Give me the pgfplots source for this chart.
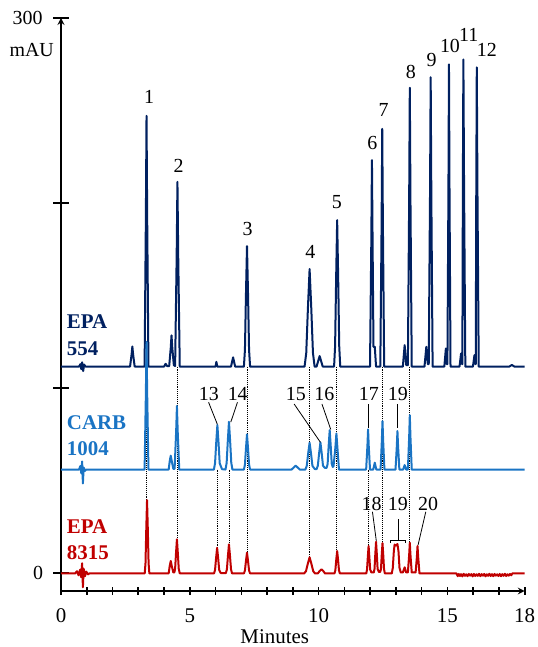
\documentclass[border=0pt]{standalone}
\usepackage{pgfplots}
\pgfplotsset{compat=1.18}
\usepackage{fontspec}
\setmainfont{Liberation Serif}
\definecolor{navy}{HTML}{002060}
\definecolor{cblue}{HTML}{1A74C4}
\definecolor{cred}{HTML}{C00000}
\newcommand{\fs}[1]{\fontsize{#1}{#1}\selectfont}
\tikzset{lead/.style={black, line width=0.8bp}}
\begin{document}
\begin{tikzpicture}
\pgfplotsset{
  base/.style={at={(0,0)}, anchor=south west, width=463.7bp, height=573bp, scale only axis,
    xmin=0, xmax=18, ymin=-9.5, ymax=300, clip=false,
    axis line style={-, line width=2bp, black},
    tick align=outside,
    /pgf/number format/assume math mode=true},
  trace/.style={line width=2bp, line join=round, mark=none},
  dots/.style={black, line width=0.9bp, densely dotted, mark=none},
}
\begin{axis}[base, axis x line=none, axis y line=left,
  ytick={0,100,200,300}, yticklabels={,,,},
  major tick length=15bp, ytick style={line width=2bp, black},
]
% dotted guide lines
\addplot[dots] coordinates {(3.32,111.7) (3.32,39.6)};
\addplot[dots] coordinates {(4.51,111.7) (4.51,18.4)};
\addplot[dots] coordinates {(6.06,56.1) (6.06,13.8)};
\addplot[dots] coordinates {(6.52,56.1) (6.52,15.7)};
\addplot[dots] coordinates {(7.22,111.7) (7.22,11.2)};
\addplot[dots] coordinates {(9.65,111.7) (9.65,8.7)};
\addplot[dots] coordinates {(10.71,111.7) (10.71,12.1)};
\addplot[dots] coordinates {(11.93,56.1) (11.93,14.8)};
\addplot[dots] coordinates {(12.47,111.7) (12.47,16.3)};
\addplot[dots] coordinates {(13.54,111.7) (13.54,16.6)};
% EPA 554
\addplot[trace, navy] table {
x y
0.00 111.7
0.70 111.7
0.75 113.0
0.79 110.3
0.82 114.0
0.86 109.3
0.90 112.8
0.95 111.7
2.68 111.7
2.74 118.2
2.77 122.6
2.80 118.2
2.86 111.7
3.245 111.7
3.295 192.9
3.32 247.1
3.345 192.9
3.395 111.7
4.00 111.7
4.06 113.2
4.12 112.0
4.20 112.0
4.26 121.8
4.29 128.6
4.32 121.8
4.38 112.5
4.43 112.0
4.49 171.6
4.52 211.5
4.55 171.6
4.61 111.7
6.00 111.7
6.03 114.3
6.07 111.7
6.60 111.7
6.68 116.7
6.76 111.7
7.10 111.7
7.14 120.8
7.18 150.8
7.22 176.8
7.26 150.8
7.30 120.8
7.34 111.7
9.455 111.7
9.52 119.1
9.585 143.3
9.65 164.4
9.715 143.3
9.78 119.1
9.845 111.7
9.92 111.7
10.04 117.4
10.16 111.7
10.60 111.7
10.64 122.8
10.68 159.2
10.72 190.8
10.76 159.2
10.80 122.8
10.84 111.7
11.995 111.7
12.045 178.6
12.07 223.2
12.095 178.6
12.13 122.4
12.18 122.4
12.23 111.7
12.395 111.7
12.445 188.7
12.47 240.1
12.495 188.7
12.545 111.7
13.27 111.7
13.34 123.3
13.40 112.5
13.465 112.5
13.515 202.1
13.54 262.3
13.565 202.1
13.615 111.7
14.11 111.7
14.18 122.4
14.24 113.0
14.275 113.0
14.325 205.5
14.35 268.0
14.375 205.5
14.425 111.7
14.88 111.7
14.94 121.5
14.98 113.0
15.00 113.0
15.04 209.6
15.06 274.9
15.08 209.6
15.12 111.7
15.47 111.7
15.53 118.8
15.57 113.0
15.58 113.0
15.60 211.2
15.62 277.6
15.645 211.2
15.695 111.7
15.99 111.7
16.05 117.9
16.09 113.0
16.10 113.0
16.12 208.7
16.14 273.3
16.165 208.7
16.215 111.7
17.40 111.7
17.50 112.6
17.60 111.7
18.00 111.7
};
% CARB 1004
\addplot[trace, cblue] table {
x y
0.00 56.1
0.70 56.1
0.75 58.0
0.79 54.0
0.82 60.5
0.85 48.6
0.88 57.2
0.92 55.3
0.97 56.1
3.245 56.1
3.295 97.5
3.32 125.1
3.345 97.5
3.395 56.1
4.18 56.1
4.22 60.6
4.26 63.6
4.30 60.6
4.36 56.5
4.41 56.5
4.47 76.7
4.50 90.4
4.53 76.7
4.59 56.1
5.935 56.1
5.98 59.5
6.025 70.6
6.07 80.2
6.115 70.6
6.16 59.5
6.25 56.3
6.385 56.1
6.43 59.7
6.475 71.6
6.52 81.9
6.565 71.6
6.61 59.7
6.655 56.1
7.10 56.1
7.14 58.8
7.18 67.5
7.22 75.1
7.26 67.5
7.30 58.8
7.34 56.1
8.95 56.1
9.11 58.2
9.27 56.1
9.485 56.1
9.54 58.1
9.595 64.8
9.65 70.6
9.705 64.8
9.76 58.1
9.85 56.4
9.92 56.3
9.97 58.2
10.02 64.9
10.07 70.8
10.12 64.9
10.17 58.2
10.24 57.0
10.31 57.0
10.35 59.1
10.39 68.9
10.43 77.4
10.47 68.9
10.51 59.1
10.55 57.5
10.58 58.0
10.65 67.8
10.69 75.6
10.73 67.8
10.79 56.1
11.845 56.1
11.895 69.1
11.92 77.8
11.945 69.1
11.995 56.1
12.12 56.1
12.18 59.8
12.24 56.1
12.405 56.1
12.455 71.8
12.48 82.3
12.505 71.8
12.555 56.1
12.985 56.1
13.035 68.6
13.06 76.9
13.085 68.6
13.135 56.1
13.28 56.1
13.34 58.5
13.40 56.1
13.465 56.1
13.515 73.7
13.54 85.5
13.565 73.7
13.615 56.1
18.00 56.1
};
% EPA 8315
\addplot[trace, cred] table {
x y
0.00 0
0.55 0
0.62 1.2
0.68 -1.0
0.74 2.0
0.78 -2.0
0.82 5.5
0.85 -7.5
0.88 2.5
0.93 -1.5
0.98 1.0
1.05 -0.5
1.10 0
3.25 0
3.28 5.5
3.31 23.8
3.34 39.6
3.37 23.8
3.40 5.5
3.43 0
4.18 0
4.22 4.0
4.26 6.7
4.30 4.0
4.36 0.5
4.40 0.5
4.43 2.6
4.465 11.0
4.50 18.4
4.535 11.0
4.57 2.6
4.61 0
5.94 0
5.98 1.9
6.02 8.3
6.06 13.8
6.10 8.3
6.14 1.9
6.20 0.2
6.40 0.2
6.44 2.2
6.48 9.4
6.52 15.7
6.56 9.4
6.60 2.2
6.64 0
7.10 0
7.14 1.6
7.18 6.7
7.22 11.2
7.26 6.7
7.30 1.6
7.34 0
9.44 0
9.51 1.2
9.58 5.2
9.65 8.7
9.72 5.2
9.79 1.2
9.86 0
9.97 0
10.04 1.3
10.11 2.2
10.18 1.3
10.25 0
10.615 0
10.65 1.7
10.685 7.3
10.72 12.1
10.755 7.3
10.79 1.7
10.825 0
11.85 0
11.88 2.1
11.91 8.9
11.94 14.8
11.97 8.9
12.00 2.1
12.05 0.5
12.14 0.5
12.17 2.4
12.20 10.3
12.23 17.1
12.26 10.3
12.29 2.4
12.34 0.8
12.39 0.8
12.42 2.3
12.45 9.8
12.48 16.3
12.51 9.8
12.54 2.3
12.57 0
12.84 0
12.88 3.0
12.92 12.0
12.95 15.6
12.99 15.0
13.02 15.2
13.06 15.9
13.10 12.0
13.14 3.0
13.19 0.5
13.27 0.5
13.34 3.3
13.40 0.5
13.465 0.5
13.515 10.0
13.54 16.6
13.565 10.0
13.615 0.5
13.765 0.5
13.815 8.9
13.84 14.8
13.865 8.9
13.915 0
15.35 0.0
15.40 -1.5
15.44 -0.3
15.49 -1.4
15.53 -0.4
15.58 -1.6
15.63 -0.2
15.68 -1.3
15.73 -0.5
15.78 -1.5
15.83 -0.3
15.88 -1.2
15.93 -0.4
15.98 -1.6
16.03 -0.3
16.08 -1.4
16.13 -0.5
16.18 -1.3
16.23 -0.2
16.28 -1.5
16.33 -0.4
16.38 -1.2
16.43 -0.3
16.48 -1.6
16.53 -0.5
16.58 -1.3
16.63 -0.2
16.68 -1.4
16.73 -0.4
16.78 -1.5
16.83 -0.3
16.88 -1.2
16.93 -0.5
16.98 -1.4
17.03 -0.3
17.08 -1.5
17.13 -0.4
17.18 -1.3
17.23 -0.2
17.28 -1.4
17.33 -0.5
17.38 -1.2
17.43 -0.3
17.48 -1.0
17.52 0.0
18.00 0.0
};
% peak labels EPA 554
\begin{scope}[every node/.style={font=\fs{20}, inner sep=0}]
\node at (axis cs:3.42,257.2) {1};
\node at (axis cs:4.57,220.1) {2};
\node at (axis cs:7.24,185.8) {3};
\node at (axis cs:9.68,173.7) {4};
\node at (axis cs:10.71,200.7) {5};
\node at (axis cs:12.09,232.6) {6};
\node at (axis cs:12.52,250.2) {7};
\node at (axis cs:13.58,270.6) {8};
\node at (axis cs:14.39,277.2) {9};
\node at (axis cs:15.10,285.0) {10};
\node at (axis cs:15.83,291.0) {11};
\node at (axis cs:16.53,282.6) {12};
% CARB labels
\node at (axis cs:5.74,96.9) {13};
\node at (axis cs:6.86,96.9) {14};
\node at (axis cs:9.12,96.9) {15};
\node at (axis cs:10.22,96.9) {16};
\node at (axis cs:11.95,96.9) {17};
\node at (axis cs:13.08,96.9) {19};
% 8315 labels
\node at (axis cs:12.06,37.6) {18};
\node at (axis cs:13.08,37.6) {19};
\node at (axis cs:14.25,37.6) {20};
\end{scope}
\draw[lead] (axis cs:5.73,92.4) -- (axis cs:6.07,80.5);
\draw[lead] (axis cs:6.85,92.4) -- (axis cs:6.59,81.7);
\draw[lead] (axis cs:9.05,91.5) -- (axis cs:10.07,70.8);
\draw[lead] (axis cs:10.13,91.5) -- (axis cs:10.47,77.8);
\draw[lead] (axis cs:11.94,91.5) -- (axis cs:11.94,78.7);
\draw[lead] (axis cs:13.06,91.5) -- (axis cs:13.06,78.3);
\draw[lead] (axis cs:12.09,33.3) -- (axis cs:12.24,17.5);
\draw[lead] (axis cs:12.79,16.3) -- (axis cs:12.79,18.0) -- (axis cs:13.37,18.0) -- (axis cs:13.37,16.3);
\draw[lead] (axis cs:13.08,18.0) -- (axis cs:13.08,29.2);
\draw[lead] (axis cs:14.16,33.3) -- (axis cs:13.86,15.3);
\end{axis}
\begin{axis}[base, axis y line=none, axis x line=bottom,
  xtick={0,5,10,15,18}, minor xtick={1,2,3,4,6,7,8,9,11,12,13,14,16,17},
  xticklabels={,,,,},
  major tick length=7bp, minor tick length=7bp,
  xtick style={line width=1.6bp, black},
]
\addplot[draw=none] coordinates {(0,0)};
\end{axis}
% tick labels
\begin{scope}[every node/.style={inner sep=0, font=\fs{21}, anchor=north}]
\node at (0bp,-17.3bp) {0};
\node at (128.8bp,-17.3bp) {5};
\node at (257.6bp,-17.3bp) {10};
\node at (386.4bp,-17.3bp) {15};
\node at (463.7bp,-17.3bp) {18};
\end{scope}
\node[anchor=east, inner sep=0, font=\fs{20}] at (-18.2bp,572.7bp) {300};
\node[anchor=east, inner sep=0, font=\fs{20}] at (-17.7bp,18.3bp) {0};
% texts
\node[anchor=base, font=\fs{21}, inner sep=0] at (213.7bp,-52.8bp) {Minutes};
\node[anchor=base east, font=\fs{20}, inner sep=0] at (-7bp,534bp) {mAU};
\begin{scope}[every node/.style={anchor=west, inner sep=0, font=\bfseries\fs{21}}]
\node[text=navy] at (5.7bp,269.3bp) {EPA};
\node[text=navy] at (5.7bp,242bp) {554};
\node[text=cblue] at (5.7bp,168.5bp) {CARB};
\node[text=cblue] at (5.7bp,142.3bp) {1004};
\node[text=cred] at (5.7bp,64.3bp) {EPA};
\node[text=cred] at (5.7bp,38.5bp) {8315};
\end{scope}
\pgfresetboundingbox
\path[use as bounding box] (-61bp,-56bp) rectangle (477bp,591bp);
\end{tikzpicture}
\end{document}
